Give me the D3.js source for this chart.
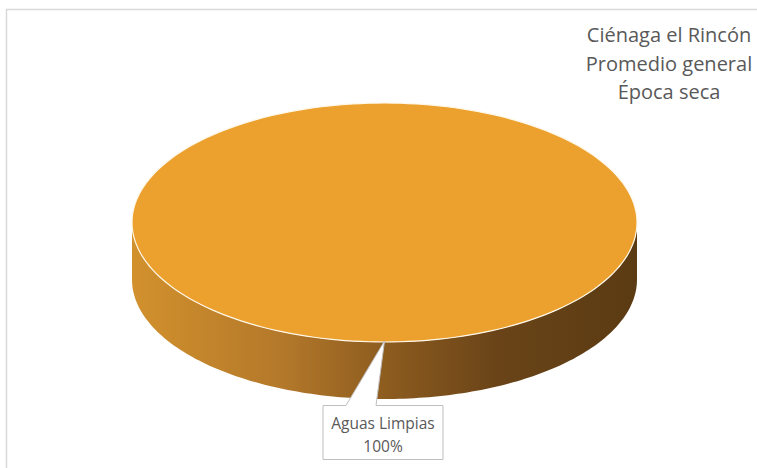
<!DOCTYPE html>
<html><head><meta charset="utf-8">
<script src="https://cdn.jsdelivr.net/npm/d3@7"></script>
<style>html,body{margin:0;padding:0;background:#fff}svg{display:block}</style>
</head><body>
<script>
const categories = ["Aguas Limpias"];
const values = [100];
const titleLines = ["Ciénaga el Rincón", "Promedio general", "Época seca"];
const colors = ["#eca12e"];

const W = 757, H = 468;
const svg = d3.select("body").append("svg").attr("width", W).attr("height", H);

// chart border
svg.append("rect").attr("x", 6.5).attr("y", 9.5).attr("width", 780).attr("height", 500)
  .attr("fill", "#fff").attr("stroke", "#d9d9d9").attr("stroke-width", 1.5);

const cx = 384.5, cy = 222.5, rx = 252.5, ry = 119.5, depth = 57;
const pt = (a, dy = 0) => [cx + rx * Math.sin(a), cy - ry * Math.cos(a) + dy];

const pie = d3.pie().sort(null).value(d => d.v).startAngle(Math.PI).endAngle(3 * Math.PI);
const arcs = pie(categories.map((c, i) => ({ c, v: values[i], i })));

const defs = svg.append("defs");
const g = defs.append("linearGradient").attr("id", "side").attr("gradientUnits", "userSpaceOnUse")
  .attr("x1", cx - rx).attr("x2", cx + rx).attr("y1", 0).attr("y2", 0);
[[0, "#d2912d"], [0.3, "#b3782a"], [0.5, "#8d5c1f"], [0.72, "#6a4418"], [1, "#5b3b13"]]
  .forEach(([o, c]) => g.append("stop").attr("offset", o).attr("stop-color", c));

function sidePath(s, e) {
  const segs = [];
  for (let k = -1; k <= 2; k++) {
    const lo = Math.PI / 2 + 2 * Math.PI * k, hi = 3 * Math.PI / 2 + 2 * Math.PI * k;
    const a0 = Math.max(s, lo), a1 = Math.min(e, hi);
    if (a1 > a0) segs.push([a0, a1]);
  }
  return segs.map(([a0, a1]) => {
    const n = 80, top = [], bot = [];
    for (let j = 0; j <= n; j++) {
      const a = a0 + (a1 - a0) * j / n;
      top.push(pt(a)); bot.push(pt(a, depth));
    }
    return "M" + top.map(p => p.join(",")).join("L") + "L" + bot.reverse().map(p => p.join(",")).join("L") + "Z";
  }).join("");
}
function topPath(s, e) {
  const n = 200, pts = [];
  for (let j = 0; j <= n; j++) pts.push(pt(s + (e - s) * j / n));
  const full = e - s >= 2 * Math.PI - 1e-6;
  return "M" + (full ? "" : cx + "," + cy + "L") + pts.map(p => p.join(",")).join("L") + "Z";
}

arcs.forEach(d => {
  svg.append("path").attr("d", sidePath(d.startAngle, d.endAngle)).attr("fill", "url(#side)");
});
arcs.forEach(d => {
  svg.append("path").attr("d", topPath(d.startAngle, d.endAngle))
    .attr("fill", colors[d.index % colors.length])
    .attr("stroke", "#fff7e8").attr("stroke-width", 1.2);
});

// data label with callout
arcs.forEach(d => {
  const tip = pt(d.startAngle);
  const bx = 323, by = 405.5, bw = 120, bh = 54;
  svg.append("path")
    .attr("d", `M${bx + 23},${by} L${tip[0]},${tip[1] - 1} L${bx + 53},${by} L${bx + bw},${by} L${bx + bw},${by + bh} L${bx},${by + bh} L${bx},${by} Z`)
    .attr("fill", "#fff").attr("stroke", "#bfbfbf").attr("stroke-width", 1);
  const t = svg.append("text").attr("text-anchor", "middle").attr("fill", "#595959")
    .attr("font-family", "'Open Sans', sans-serif").attr("font-size", 15.5);
  t.append("tspan").attr("x", bx + bw / 2).attr("y", by + 23).text(d.data.c);
  t.append("tspan").attr("x", bx + bw / 2).attr("y", by + 46).text(d3.format(".0%")(d.value / d3.sum(values)));
});

const tt = svg.append("text").attr("text-anchor", "middle").attr("fill", "#595959")
  .attr("font-family", "'Open Sans', sans-serif").attr("font-size", 20);
titleLines.forEach((l, i) => tt.append("tspan").attr("x", 669).attr("y", 42 + i * 28.5).text(l));
</script>
</body></html>
